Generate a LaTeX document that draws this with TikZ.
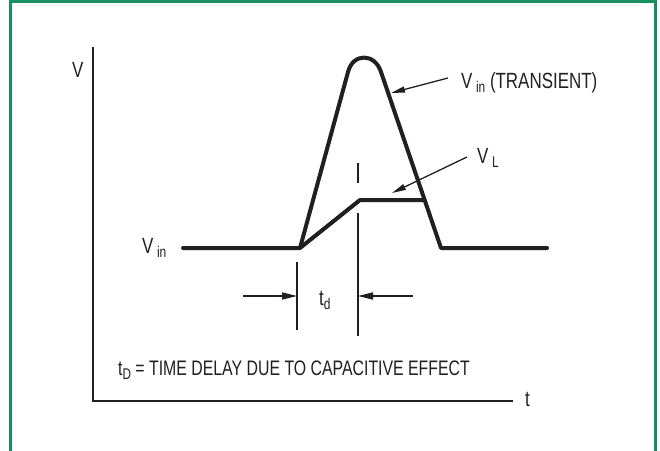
\documentclass[tikz,border=0pt]{standalone}
\usepackage{fontspec}
\setmainfont[FakeStretch=0.77]{Liberation Sans}
\newfontfamily\capfont[FakeStretch=0.755]{Liberation Sans}
\usetikzlibrary{arrows.meta}
\definecolor{frame}{RGB}{24,143,96}
\definecolor{ink}{RGB}{35,31,32}
\newcommand\lbl[2]{#1\hspace{3.5pt}\raisebox{-4.5pt}{\fontsize{15.5}{15.5}\selectfont #2}}
\newcommand\lbltight[2]{#1\raisebox{-4.5pt}{\fontsize{15.5}{15.5}\selectfont #2}}
\tikzset{
  txt/.style={inner sep=0pt, anchor=base west, text=ink, font=\fontsize{22}{22}\selectfont},
  signal/.style={draw=ink, line width=4pt, line join=round, line cap=round},
  axis/.style={draw=ink, line width=2.2pt},
  marker/.style={draw=ink, line width=1.4pt},
  dimarrow/.style={draw=ink, line width=1.4pt, -{Triangle[length=15pt,width=7pt]}},
  callout/.style={draw=ink, line width=1.3pt, -{Triangle[length=14pt,width=6pt]}},
}
\begin{document}
\begin{tikzpicture}[x=1pt,y=-1pt]
\useasboundingbox (0,0) rectangle (660,450);
\fill[white] (0,0) rectangle (660,450);
% frame
\begin{scope}
\clip (0,0) rectangle (660,450);
\draw[frame, line width=3pt] (10,470) -- (10,1.5) -- (655.5,1.5) -- (655.5,470);
\end{scope}
% axes
\coordinate (ytop) at (93,47);
\coordinate (orig) at (93,401);
\coordinate (xend) at (513,401);
\draw[axis] (ytop) -- (orig) -- (xend);
\node[txt] (vlab) at (72,77) {V};
\node[txt] (tlab) at (525,406) {t};
% signal coordinates
\coordinate (a0) at (183,248);
\coordinate (a1) at (300,248);
\coordinate (p1) at (348,72);
\coordinate (p2) at (381,72);
\coordinate (a2) at (441,248);
\coordinate (a3) at (547,248);
\coordinate (l1) at (360,200);
\coordinate (l2) at (424,200);
% V_in transient
\draw[signal] (a0) -- (a1) -- (p1) .. controls (353,52.5) and (375,53) .. (p2) -- (a2) -- (a3);
% V_L
\draw[signal] (a1) -- (l1) -- (l2);
% markers
\coordinate (m1a) at (358,163);
\coordinate (m1b) at (358,183);
\coordinate (m1c) at (358,213);
\coordinate (m1d) at (358,336);
\coordinate (m0a) at (297,262);
\coordinate (m0b) at (297,330);
\draw[marker] (m1a) -- (m1b);
\draw[marker] (m1c) -- (m1d);
\draw[marker] (m0a) -- (m0b);
% dimension arrows
\coordinate (d0) at (243,296);
\coordinate (d0e) at (297,296);
\coordinate (d1) at (413,296);
\coordinate (d1e) at (358,296);
\draw[dimarrow] (d0) -- (d0e);
\draw[dimarrow] (d1) -- (d1e);
\node[txt] (td) at (319,305) {\lbltight{t}{d}};
% labels
\node[txt] (vin) at (142,253) {\lbl{V}{in}};
\node[txt] (vtr) at (461,88) {\lbl{V}{in} (TRANSIENT)};
\node[txt] (vl) at (477,163) {\lbl{V}{L}};
\coordinate (c0) at (448,78);
\coordinate (c0e) at (391,93);
\coordinate (c1) at (467,157);
\coordinate (c1e) at (392,193);
\draw[callout] (c0) -- (c0e);
\draw[callout] (c1) -- (c1e);
% caption
\node[txt, font=\capfont\fontsize{21}{21}\selectfont] (cap) at (118,375) {\lbltight{t}{D} = TIME DELAY DUE TO CAPACITIVE EFFECT};
\end{tikzpicture}
\end{document}
